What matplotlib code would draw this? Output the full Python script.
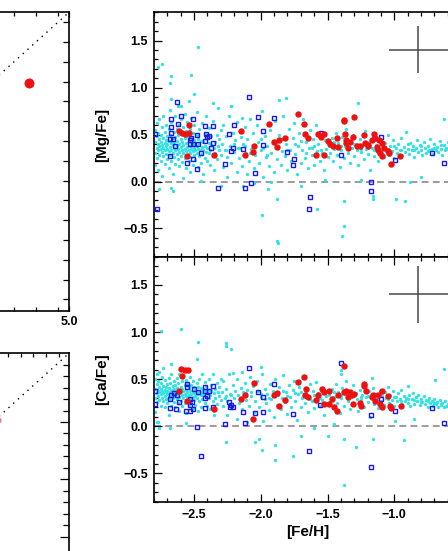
import numpy as np
import matplotlib
matplotlib.use("Agg")
import matplotlib.pyplot as plt
from matplotlib.ticker import MultipleLocator, FixedLocator

plt.rcParams['font.family'] = ['Liberation Sans', 'DejaVu Sans']
plt.rcParams['font.weight'] = 'bold'

# ---------------- data ----------------
# field stars (cyan), [Mg/Fe]
mg_field = [
    (-2.79,0.42),(-2.79,0.30),(-2.79,0.55),(-2.79,0.18),(-2.78,0.36),(-2.78,0.48),(-2.78,0.25),(-2.78,0.62),
    (-2.77,0.40),(-2.77,0.33),(-2.77,0.12),(-2.77,0.52),(-2.76,0.45),(-2.76,0.28),(-2.76,0.38),(-2.76,0.66),
    (-2.75,0.35),(-2.75,0.22),(-2.75,0.50),(-2.75,0.42),(-2.74,0.31),(-2.74,0.58),(-2.74,0.39),(-2.74,0.06),
    (-2.73,0.46),(-2.73,0.27),(-2.73,0.36),(-2.73,0.70),(-2.72,0.41),(-2.72,0.33),(-2.72,0.53),(-2.72,0.19),
    (-2.71,0.38),(-2.71,0.44),(-2.71,0.29),(-2.71,0.60),(-2.70,0.35),(-2.70,0.48),(-2.70,0.24),(-2.70,0.40),
    (-2.69,0.32),(-2.69,0.56),(-2.69,0.43),(-2.69,0.14),(-2.68,0.37),(-2.68,0.28),(-2.68,0.50),(-2.68,0.76),
    (-2.67,0.41),(-2.67,0.34),(-2.67,0.22),(-2.67,0.63),(-2.66,0.39),(-2.66,0.46),(-2.66,0.30),(-2.66,0.08),
    (-2.65,0.36),(-2.65,0.53),(-2.65,0.26),(-2.65,0.42),(-2.64,0.33),(-2.64,0.47),(-2.64,0.19),(-2.64,0.70),
    (-2.63,0.38),(-2.63,0.29),(-2.63,0.56),(-2.63,0.43),(-2.62,0.35),(-2.62,0.24),(-2.62,0.49),(-2.62,0.80),
    (-2.61,0.40),(-2.61,0.31),(-2.61,0.60),(-2.61,0.16),(-2.60,0.37),(-2.60,0.45),(-2.60,0.27),(-2.60,0.66),
    (-2.59,0.33),(-2.59,0.42),(-2.59,0.21),(-2.59,0.52),(-2.58,0.39),(-2.58,0.30),(-2.58,0.58),(-2.58,0.04),
    (-2.57,0.35),(-2.57,0.46),(-2.57,0.25),(-2.57,0.72),(-2.56,0.41),(-2.56,0.32),(-2.56,0.14),(-2.56,0.54),
    (-2.55,0.37),(-2.55,0.28),(-2.55,0.48),(-2.55,0.63),(-2.54,0.34),(-2.54,0.43),(-2.54,0.22),(-2.54,0.86),
    (-2.53,0.38),(-2.53,0.30),(-2.53,0.56),(-2.53,0.10),(-2.52,0.35),(-2.52,0.47),(-2.52,0.26),(-2.52,0.68),
    (-2.51,0.40),(-2.51,0.32),(-2.51,0.18),(-2.51,0.52),(-2.50,0.36),(-2.50,0.44),(-2.50,0.28),(-2.50,0.60),
    (-2.49,0.33),(-2.49,0.41),(-2.49,0.23),(-2.48,0.38),(-2.48,0.30),(-2.48,0.50),(-2.48,0.74),(-2.47,0.35),
    (-2.47,0.45),(-2.47,0.15),(-2.46,0.40),(-2.46,0.27),(-2.46,0.56),(-2.45,0.33),(-2.45,0.43),(-2.45,0.20),
    (-2.44,0.37),(-2.44,0.62),(-2.44,0.29),(-2.43,0.42),(-2.43,0.34),(-2.43,0.08),(-2.42,0.38),(-2.42,0.25),
    (-2.42,0.52),(-2.41,0.31),(-2.41,0.46),(-2.41,0.70),(-2.40,0.36),(-2.40,0.22),(-2.39,0.41),(-2.39,0.30),
    (-2.39,0.57),(-2.38,0.34),(-2.38,0.18),(-2.37,0.39),(-2.37,0.48),(-2.36,0.27),(-2.36,0.64),(-2.35,0.36),
    (-2.35,0.12),(-2.34,0.42),(-2.34,0.30),(-2.33,0.50),(-2.33,0.24),(-2.32,0.38),(-2.32,0.78),(-2.31,0.33),
    (-2.31,0.45),(-2.30,0.28),(-2.30,0.55),
    (-2.29,0.40),(-2.28,0.15),(-2.28,0.60),(-2.27,0.33),(-2.26,0.48),(-2.25,0.05),(-2.25,0.26),(-2.24,0.70),
    (-2.23,0.38),(-2.22,0.80),(-2.22,0.20),(-2.21,0.52),(-2.20,0.31),(-2.19,0.44),(-2.18,0.10),(-2.18,0.63),
    (-2.17,0.36),(-2.16,0.25),(-2.15,0.47),(-2.14,0.68),(-2.14,0.17),(-2.13,0.40),(-2.12,0.58),(-2.11,0.30),
    (-2.10,0.08),(-2.10,0.45),(-2.09,0.22),(-2.08,0.66),(-2.07,0.35),(-2.06,0.52),(-2.05,0.14),(-2.04,0.28),
    (-2.03,0.60),(-2.02,0.42),(-2.01,0.20),(-2.00,0.33),(-1.99,0.75),(-1.98,0.05),(-1.97,0.48),(-1.96,0.26),
    (-1.95,0.38),(-1.94,0.16),(-1.93,0.55),(-1.92,0.30),(-1.91,0.43),(-1.90,0.10),(-1.89,0.64),(-1.88,0.24),
    (-1.87,0.36),(-1.86,0.50),(-1.85,0.18),(-1.84,0.32),(-1.83,0.70),(-1.82,0.27),(-1.81,0.40),(-1.80,0.12),
    (-1.79,0.56),(-1.78,0.34),(-1.77,0.22),(-1.76,0.46),(-1.75,0.62),(-1.74,0.29),(-1.73,0.08),(-1.72,0.38),
    (-1.71,0.52),(-1.70,0.20),(-1.69,0.33),(-1.68,0.66),(-1.67,0.25),(-1.66,0.42),(-1.65,0.14),(-1.64,0.36),
    (-1.63,0.55),(-1.62,0.28),(-1.61,0.45),(-1.60,0.18),(-1.59,0.60),(-1.58,0.32),(-1.57,0.40),(-1.56,0.22),
    (-1.55,0.50),(-1.54,0.30),(-1.53,0.12),(-1.52,0.44),(-1.51,0.35),(-1.50,0.26),
    (-2.20,0.40),(-2.16,0.36),(-2.08,0.30),(-2.00,0.45),(-1.95,0.28),(-1.88,0.42),(-1.80,0.34),(-1.74,0.40),
    (-1.66,0.30),(-1.60,0.38),(-1.55,0.34),(-2.26,0.34),(-2.12,0.38),(-1.98,0.36),(-1.84,0.45),(-1.70,0.43),
    (-1.62,0.36),
    (-1.49,0.38),(-1.48,0.30),(-1.47,0.46),(-1.46,0.22),(-1.45,0.35),(-1.44,0.52),(-1.43,0.28),(-1.42,0.41),
    (-1.41,0.15),(-1.40,0.34),(-1.39,0.47),(-1.38,0.25),(-1.37,0.38),(-1.36,0.56),(-1.35,0.30),(-1.34,0.43),
    (-1.33,0.20),(-1.32,0.36),(-1.31,0.50),(-1.30,0.27),(-1.29,0.40),(-1.28,0.33),(-1.27,0.18),(-1.26,0.45),
    (-1.25,0.31),(-1.24,0.38),(-1.23,0.24),(-1.22,0.54),(-1.21,0.35),(-1.20,0.29),(-1.19,0.42),(-1.18,0.12),
    (-1.17,0.36),(-1.16,0.48),(-1.15,0.27),(-1.14,0.39),(-1.13,0.33),(-1.12,0.22),(-1.11,0.45),(-1.10,0.30),
    (-1.09,0.37),(-1.08,0.26),(-1.07,0.41),(-1.06,0.34),(-1.05,0.50),(-1.04,0.28),(-1.03,0.38),(-1.02,0.32),
    (-1.01,0.44),(-1.00,0.25),(-0.99,0.36),(-0.98,0.30),(-0.97,0.40),(-0.96,0.34),(-0.95,0.46),(-0.94,0.28),
    (-0.93,0.37),(-0.92,0.31),(-0.91,0.53),(-0.90,0.35),(-0.89,0.29),(-0.88,0.41),(-0.87,0.33),(-0.86,0.38),
    (-0.85,0.26),(-0.84,0.36),(-0.83,0.44),(-0.82,0.31),(-0.81,0.39),(-0.80,0.34),(-0.79,0.28),(-0.78,0.42),
    (-0.77,0.36),(-0.76,0.30),(-0.75,0.38),(-0.74,0.33),(-0.73,0.45),(-0.72,0.35),(-0.71,0.29),(-0.70,0.40),
    (-0.69,0.34),(-0.68,0.37),(-0.67,0.31),(-0.66,0.43),(-0.65,0.35),(-0.64,0.28),(-0.63,0.39),(-0.62,0.33),
    (-0.61,0.36),(-0.60,0.42),(-0.59,0.30),(-0.58,0.38),
    (-1.45,0.42),(-1.40,0.38),(-1.35,0.36),(-1.30,0.40),(-1.25,0.35),(-1.20,0.36),(-1.15,0.34),(-1.10,0.40),
    (-1.05,0.35),(-1.00,0.38),(-0.95,0.33),(-0.90,0.40),(-0.85,0.34),(-0.80,0.38),(-0.75,0.32),(-0.70,0.36),
    (-0.65,0.39),(-0.60,0.35),
    (-2.77,1.22),(-2.74,1.25),(-2.67,1.12),(-2.68,1.05),(-2.47,1.43),(-2.52,1.13),(-2.50,0.93),(-1.86,0.87),
    (-1.81,0.89),(-1.99,-0.36),(-1.88,-0.63),(-1.87,-0.65),(-1.38,-0.47),(-1.39,-0.58),(-1.27,0.83),(-0.63,0.67),
    (-0.99,-0.19),(-0.92,-0.21),(-1.375,-0.21),(-1.58,-0.29),(-1.945,-0.08),(-1.88,-0.19),(-1.16,-0.19),
    (-1.16,-0.15),(-2.45,0.01),(-2.76,-0.08),(-2.67,-0.07),(-2.66,-0.10),(-0.88,0.00),(-1.92,0.00),(-2.36,0.83),
    (-2.22,0.80),(-2.67,0.88),(-2.60,0.80),(-2.13,-0.05),(-2.05,-0.02),(-1.70,-0.05),(-1.52,0.02),(-1.25,0.02),
    (-0.80,0.05),(-2.30,-0.05),
]

# field stars (cyan), [Ca/Fe]
ca_field = [
    (-2.79,0.40),(-2.79,0.30),(-2.79,0.50),(-2.79,0.15),(-2.78,0.35),(-2.78,0.45),(-2.78,0.26),(-2.78,0.55),
    (-2.77,0.38),(-2.77,0.32),(-2.77,0.05),(-2.77,0.48),(-2.76,0.42),(-2.76,0.28),(-2.76,0.36),(-2.76,0.58),
    (-2.75,0.34),(-2.75,0.22),(-2.75,0.46),(-2.75,0.40),(-2.74,0.30),(-2.74,0.52),(-2.74,0.37),(-2.73,0.43),
    (-2.73,0.27),(-2.73,0.35),(-2.73,0.62),(-2.72,0.39),(-2.72,0.32),(-2.72,0.49),(-2.72,0.20),(-2.71,0.36),
    (-2.71,0.42),(-2.71,0.29),(-2.70,0.34),(-2.70,0.45),(-2.70,0.25),(-2.70,0.38),(-2.69,0.31),(-2.69,0.51),
    (-2.69,0.41),(-2.69,0.12),(-2.68,0.36),(-2.68,0.28),(-2.68,0.46),(-2.67,0.39),(-2.67,0.33),(-2.67,0.22),
    (-2.67,0.56),(-2.66,0.37),(-2.66,0.43),(-2.66,0.30),(-2.65,0.35),(-2.65,0.48),(-2.65,0.26),(-2.65,0.40),
    (-2.64,0.32),(-2.64,0.44),(-2.64,0.20),(-2.63,0.37),(-2.63,0.29),(-2.63,0.51),(-2.63,0.41),(-2.62,0.34),
    (-2.62,0.25),(-2.62,0.46),(-2.61,0.38),(-2.61,0.31),(-2.61,0.55),(-2.61,0.16),(-2.60,0.36),(-2.60,0.42),
    (-2.60,0.27),(-2.59,0.33),(-2.59,0.40),(-2.59,0.22),(-2.59,0.48),(-2.58,0.37),(-2.58,0.30),(-2.58,0.52),
    (-2.57,0.34),(-2.57,0.44),(-2.57,0.25),(-2.56,0.39),(-2.56,0.32),(-2.56,0.14),(-2.56,0.49),(-2.55,0.36),
    (-2.55,0.28),(-2.55,0.45),(-2.54,0.33),(-2.54,0.41),(-2.54,0.23),(-2.53,0.37),(-2.53,0.30),(-2.53,0.52),
    (-2.52,0.34),(-2.52,0.44),(-2.52,0.26),(-2.51,0.38),(-2.51,0.31),(-2.51,0.19),(-2.51,0.48),(-2.50,0.35),
    (-2.50,0.42),(-2.50,0.28),(-2.49,0.32),(-2.49,0.39),(-2.49,0.23),(-2.48,0.36),(-2.48,0.30),(-2.48,0.46),
    (-2.47,0.34),(-2.47,0.42),(-2.47,0.16),(-2.46,0.38),(-2.46,0.27),(-2.46,0.50),(-2.45,0.33),(-2.45,0.41),
    (-2.45,0.21),(-2.44,0.36),(-2.44,0.55),(-2.44,0.29),(-2.43,0.40),(-2.43,0.33),(-2.42,0.37),(-2.42,0.25),
    (-2.42,0.47),(-2.41,0.31),(-2.41,0.43),(-2.40,0.35),(-2.40,0.22),(-2.39,0.39),(-2.39,0.30),(-2.39,0.50),
    (-2.38,0.33),(-2.38,0.18),(-2.37,0.37),(-2.37,0.44),(-2.36,0.27),(-2.36,0.55),(-2.35,0.35),(-2.35,0.12),
    (-2.34,0.40),(-2.34,0.30),(-2.33,0.46),(-2.33,0.24),(-2.32,0.36),(-2.31,0.32),(-2.31,0.42),(-2.30,0.28),
    (-2.30,0.50),
    (-2.29,0.36),(-2.28,0.22),(-2.28,0.48),(-2.27,0.30),(-2.26,0.40),(-2.25,0.12),(-2.25,0.27),(-2.24,0.55),
    (-2.23,0.34),(-2.22,0.20),(-2.21,0.44),(-2.20,0.30),(-2.19,0.38),(-2.18,0.08),(-2.18,0.50),(-2.17,0.33),
    (-2.16,0.25),(-2.15,0.41),(-2.14,0.58),(-2.14,0.18),(-2.13,0.36),(-2.12,0.46),(-2.11,0.28),(-2.10,0.05),
    (-2.10,0.39),(-2.09,0.22),(-2.08,0.52),(-2.07,0.32),(-2.06,0.43),(-2.05,0.15),(-2.04,0.27),(-2.03,0.48),
    (-2.02,0.37),(-2.01,0.20),(-2.00,0.31),(-1.99,0.56),(-1.98,0.06),(-1.97,0.40),(-1.96,0.25),(-1.95,0.34),
    (-1.94,0.17),(-1.93,0.45),(-1.92,0.29),(-1.91,0.37),(-1.90,0.10),(-1.89,0.50),(-1.88,0.23),(-1.87,0.33),
    (-1.86,0.42),(-1.85,0.18),(-1.84,0.30),(-1.83,0.54),(-1.82,0.26),(-1.81,0.36),(-1.80,0.13),(-1.79,0.44),
    (-1.78,0.31),(-1.77,0.21),(-1.76,0.39),(-1.75,0.48),(-1.74,0.27),(-1.73,0.07),(-1.72,0.34),(-1.71,0.42),
    (-1.70,0.20),(-1.69,0.30),(-1.68,0.52),(-1.67,0.25),(-1.66,0.37),(-1.65,0.15),(-1.64,0.32),(-1.63,0.45),
    (-1.62,0.27),(-1.61,0.38),(-1.60,0.19),(-1.59,0.47),(-1.58,0.30),(-1.57,0.35),(-1.56,0.22),(-1.55,0.41),
    (-1.54,0.28),(-1.53,0.12),(-1.52,0.37),(-1.51,0.32),(-1.50,0.25),
    (-2.22,0.33),(-2.15,0.30),(-2.07,0.36),(-2.00,0.34),(-1.94,0.30),(-1.87,0.36),(-1.80,0.32),(-1.74,0.35),
    (-1.67,0.31),(-1.60,0.33),(-1.56,0.30),(-2.26,0.32),(-2.11,0.35),(-1.97,0.29),(-1.83,0.38),(-1.70,0.36),
    (-1.63,0.29),
    (-1.49,0.33),(-1.48,0.26),(-1.47,0.40),(-1.46,0.20),(-1.45,0.31),(-1.44,0.45),(-1.43,0.25),(-1.42,0.36),
    (-1.41,0.14),(-1.40,0.30),(-1.39,0.41),(-1.38,0.22),(-1.37,0.34),(-1.36,0.48),(-1.35,0.27),(-1.34,0.38),
    (-1.33,0.18),(-1.32,0.32),(-1.31,0.44),(-1.30,0.24),(-1.29,0.35),(-1.28,0.29),(-1.27,0.16),(-1.26,0.39),
    (-1.25,0.28),(-1.24,0.33),(-1.23,0.21),(-1.22,0.45),(-1.21,0.31),(-1.20,0.26),(-1.19,0.37),(-1.18,0.10),
    (-1.17,0.32),(-1.16,0.41),(-1.15,0.24),(-1.14,0.34),(-1.13,0.29),(-1.12,0.19),(-1.11,0.38),(-1.10,0.27),
    (-1.09,0.32),(-1.08,0.23),(-1.07,0.36),(-1.06,0.30),(-1.05,0.42),(-1.04,0.25),(-1.03,0.33),(-1.02,0.28),
    (-1.01,0.37),(-1.00,0.22),(-0.99,0.31),(-0.98,0.27),(-0.97,0.35),(-0.96,0.29),(-0.95,0.39),(-0.94,0.24),
    (-0.93,0.32),(-0.92,0.27),(-0.91,0.30),(-0.90,0.25),(-0.89,0.33),(-0.88,0.22),(-0.87,0.29),(-0.86,0.35),
    (-0.85,0.24),(-0.84,0.31),(-0.83,0.27),(-0.82,0.33),(-0.81,0.23),(-0.80,0.29),(-0.79,0.26),(-0.78,0.32),
    (-0.77,0.24),(-0.76,0.28),(-0.75,0.21),(-0.74,0.30),(-0.73,0.25),(-0.72,0.27),(-0.71,0.22),(-0.70,0.29),
    (-0.69,0.24),(-0.68,0.26),(-0.67,0.21),(-0.66,0.28),(-0.65,0.23),(-0.64,0.25),(-0.63,0.20),(-0.62,0.27),
    (-0.61,0.22),(-0.60,0.24),(-0.59,0.19),(-0.58,0.23),
    (-1.45,0.36),(-1.40,0.33),(-1.35,0.32),(-1.30,0.34),(-1.25,0.31),(-1.20,0.32),(-1.15,0.30),(-1.10,0.33),
    (-1.05,0.29),(-1.00,0.31),(-0.95,0.27),(-0.90,0.29),(-0.85,0.28),(-0.80,0.26),(-0.75,0.27),(-0.70,0.25),
    (-0.65,0.24),(-0.60,0.22),
    (-2.745,1.01),(-2.60,1.03),(-2.47,0.89),(-2.26,0.88),(-2.26,0.85),(-2.22,0.82),(-2.48,0.71),(-2.67,0.66),
    (-2.00,0.63),(-2.21,0.57),(-0.63,0.61),(-0.695,0.49),(-0.895,0.43),(-1.17,0.51),(-1.38,-0.62),(-2.26,-0.17),
    (-2.01,-0.13),(-2.045,-0.17),(-1.99,-0.25),(-1.89,-0.36),(-1.89,-0.20),(-1.76,-0.32),(-1.695,-0.10),
    (-1.495,-0.10),(-1.38,-0.13),(-1.29,-0.22),(-1.16,-0.13),(-0.93,-0.15),(-0.995,0.06),(-2.78,0.05),
    (-2.76,-0.02),(-2.68,-0.02),(-2.56,0.03),(-1.40,0.60),(-1.40,0.55),(-1.60,-0.02),(-1.45,0.02),(-0.85,0.08),
]

# comparison sample (blue open squares)
mg_sq = [
    (-2.79,0.51),(-2.78,-0.29),(-2.63,0.85),(-2.67,0.67),(-2.60,0.70),(-2.62,0.61),(-2.67,0.58),(-2.67,0.52),
    (-2.68,0.45),(-2.655,0.45),(-2.64,0.38),(-2.68,0.27),(-2.51,0.66),(-2.53,0.44),(-2.52,0.46),(-2.53,0.40),
    (-2.51,0.40),(-2.48,0.49),(-2.47,0.40),(-2.55,0.20),(-2.51,0.24),(-2.475,0.13),(-2.45,0.30),(-2.42,0.59),
    (-2.41,0.51),(-2.405,0.47),(-2.42,0.43),(-2.36,0.59),(-2.39,0.48),(-2.36,0.41),(-2.37,0.36),(-2.32,-0.07),
    (-2.27,0.19),(-2.24,0.51),(-2.20,0.60),(-2.225,0.32),(-2.21,0.36),(-2.13,0.35),(-2.09,0.90),(-2.12,-0.07),
    (-2.07,-0.02),(-2.04,0.09),(-2.02,0.69),(-1.98,0.54),(-1.98,0.39),(-1.90,0.68),(-1.80,0.31),(-1.75,0.24),
    (-1.76,0.18),(-1.63,-0.17),(-1.64,-0.29),(-1.55,0.52),(-1.40,0.28),(-1.175,0.00),(-1.175,-0.10),
    (-1.10,0.47),(-0.995,0.23),(-0.715,0.30),(-0.625,0.20),
]
ca_sq = [
    (-2.79,0.38),(-2.79,0.24),(-2.68,0.29),(-2.67,0.33),(-2.65,0.35),(-2.63,0.33),(-2.68,0.19),(-2.635,0.18),
    (-2.61,0.26),(-2.55,0.45),(-2.555,0.42),(-2.50,0.40),(-2.47,0.36),(-2.53,0.29),(-2.515,0.26),(-2.53,0.23),
    (-2.51,0.18),(-2.56,0.16),(-2.53,0.16),(-2.42,0.42),(-2.42,0.38),(-2.39,0.37),(-2.42,0.30),(-2.40,0.32),
    (-2.36,0.43),(-2.36,0.21),(-2.42,0.19),(-2.48,-0.01),(-2.45,-0.32),(-2.27,0.02),(-2.24,0.26),(-2.22,0.23),
    (-2.23,0.21),(-2.21,0.21),(-2.13,0.15),(-2.12,0.03),(-2.09,0.62),(-2.045,0.14),(-2.02,0.36),(-1.98,0.31),
    (-1.98,0.15),(-1.90,0.45),(-1.76,0.13),(-1.64,-0.26),(-1.56,0.23),(-1.40,0.67),(-1.175,0.12),
    (-1.175,-0.43),(-1.10,0.29),(-0.995,0.16),(-0.715,0.19),(-0.625,0.04),
]

# this work (red filled circles)
mg_red = [
    (-2.61,0.54),(-2.59,0.52),(-2.57,0.51),(-2.54,0.60),(-2.54,0.52),(-2.55,0.27),(-2.35,0.28),(-2.15,0.54),
    (-2.12,0.28),(-2.06,0.31),(-2.05,0.38),(-1.94,0.61),(-1.90,0.42),(-1.88,0.37),(-1.86,0.44),(-1.82,0.46),
    (-1.72,0.72),(-1.675,0.61),(-1.67,0.51),(-1.65,0.46),(-1.59,0.28),(-1.57,0.51),(-1.55,0.47),(-1.53,0.51),
    (-1.53,0.28),(-1.50,0.43),(-1.48,0.40),(-1.46,0.38),(-1.43,0.46),(-1.42,0.37),(-1.38,0.65),(-1.38,0.64),
    (-1.37,0.51),(-1.365,0.44),(-1.36,0.41),(-1.345,0.36),(-1.33,0.42),(-1.31,0.47),(-1.30,0.69),(-1.28,0.38),
    (-1.26,0.38),(-1.23,0.49),(-1.22,0.41),(-1.20,0.38),(-1.195,0.39),(-1.17,0.44),(-1.15,0.51),(-1.145,0.46),
    (-1.13,0.37),(-1.12,0.34),(-1.11,0.30),(-1.095,0.27),(-1.08,0.36),(-1.115,0.44),(-1.095,0.41),
    (-1.045,0.32),(-1.04,0.30),(-1.025,0.19),(-0.955,0.27),
]
ca_red = [
    (-2.595,0.61),(-2.57,0.60),(-2.545,0.60),(-2.59,0.53),(-2.61,0.38),(-2.55,0.27),(-2.35,0.18),(-2.15,0.29),
    (-2.12,0.33),(-2.05,0.46),(-2.06,0.08),(-1.90,0.33),(-1.88,0.35),(-1.86,0.22),(-1.82,0.28),(-1.72,0.47),
    (-1.675,0.52),(-1.66,0.40),(-1.67,0.33),(-1.65,0.31),(-1.59,0.28),(-1.57,0.33),(-1.54,0.40),(-1.53,0.36),
    (-1.53,0.24),(-1.49,0.37),(-1.49,0.24),(-1.465,0.29),(-1.45,0.21),(-1.43,0.16),(-1.42,0.33),(-1.38,0.64),
    (-1.375,0.36),(-1.36,0.38),(-1.35,0.31),(-1.33,0.36),(-1.32,0.33),(-1.30,0.34),(-1.31,0.24),(-1.26,0.25),
    (-1.25,0.22),(-1.23,0.45),(-1.23,0.43),(-1.21,0.38),(-1.17,0.31),(-1.16,0.33),(-1.145,0.27),(-1.125,0.33),
    (-1.11,0.24),(-1.095,0.21),(-1.09,0.37),(-1.045,0.32),(-1.03,0.22),(-1.025,0.19),(-0.95,0.22),
]

# typical error bars (x, y, xerr, yerr)
mg_err = (-0.82, 1.40, 0.22, 0.25)
ca_err = (-0.82, 1.40, 0.22, 0.30)

# left-hand comparison panels (only their right edge is in the picture)
left_top_pt = (4.10, 3.22)
left_bot_pt = (2.22, 2.10)

feh_ticks = [-2.5, -2.0, -1.5, -1.0]

# ---------------- figure ----------------
W, H = 448, 551
fig = plt.figure(figsize=(W / 100, H / 100), dpi=100)
fig.patch.set_facecolor('white')


def px_axes(left, top, right, bottom):
    # axes placed by pixel edges (may run off the canvas)
    return fig.add_axes([left / W, 1 - bottom / H, (right - left) / W, (bottom - top) / H])


cyan = '#2fe3e3'
blue = '#1a1ae6'
red = '#ee1111'

ax1 = px_axes(154, 12.3, 461, 256.7)
ax2 = px_axes(154, 256.7, 461, 501.7)

for ax, field, sq, rd, err, lab in [
        (ax1, mg_field, mg_sq, mg_red, mg_err, '[Mg/Fe]'),
        (ax2, ca_field, ca_sq, ca_red, ca_err, '[Ca/Fe]')]:
    fx, fy = np.array(field).T
    sx, sy = np.array(sq).T
    rx, ry = np.array(rd).T
    ax.plot(fx, fy, 'o', ms=2.4, mew=0, color=cyan, zorder=2)
    ax.axhline(0.0, color='#808080', lw=1.1, dashes=(4.5, 2.8), zorder=1)
    ax.plot(sx, sy, 's', ms=3.3, mfc='none', mec=blue, mew=1.0, zorder=3)
    ax.plot(rx, ry, 'o', ms=4.6, mew=0, color=red, zorder=4)
    ax.errorbar(err[0], err[1], xerr=err[2], yerr=err[3], fmt='none',
                ecolor='#484848', elinewidth=1.1, capsize=0, zorder=5)
    ax.set_xlim(-2.8, -0.5)
    ax.set_ylim(-0.8, 1.8)
    ax.xaxis.set_major_locator(FixedLocator(feh_ticks))
    ax.xaxis.set_minor_locator(MultipleLocator(0.1))
    ax.yaxis.set_major_locator(MultipleLocator(0.5))
    ax.yaxis.set_minor_locator(MultipleLocator(0.1))
    ax.tick_params(which='both', direction='in', top=True, right=True, width=0.9,
                   labelsize=9, colors='black')
    ax.tick_params(which='major', length=5.5)
    ax.tick_params(which='minor', length=3.0)
    ax.tick_params(axis='y', pad=4.3)
    ax.tick_params(axis='x', pad=5.5)
    for s in ax.spines.values():
        s.set_linewidth(1.2)
    ax.set_ylabel(lab, fontsize=11, fontweight='bold', va='center')
    ax.yaxis.set_label_coords(-0.168, 0.5)

ax1.tick_params(labelbottom=False)
ax2.set_xlabel('[Fe/H]', fontsize=11, fontweight='bold', va='center')
ax2.xaxis.set_label_coords(0.5, -0.1224)

# left-top panel
axl1 = px_axes(69 - 298, 12.3, 69, 310.7)
axl1.set_xlim(5.0 - 298 / 44.0, 5.0)
axl1.set_ylim(5.0 - 298.4 / 39.6, 5.0)
axl1.plot([-3, 5], [-3, 5], color='black', lw=1.0, dashes=(1, 3.6))
axl1.plot(left_top_pt[0], left_top_pt[1], 'o', ms=7.2, mew=0, color=red)
axl1.set_xticks([5.0])
axl1.set_xticklabels(['5.0'])
axl1.set_xticks([4.75, 4.25, 3.75, 3.25, 2.75, 2.25], minor=True)
axl1.set_yticks([4.75 - 0.5 * k for k in range(15)], minor=True)
axl1.set_yticks([])
axl1.tick_params(which='both', direction='in', top=True, right=True, width=0.9,
                 labelsize=9, pad=3.8)
axl1.tick_params(axis='x', which='minor', length=3.0)
axl1.tick_params(axis='y', which='minor', length=4.0)

# left-bottom panel
axl2 = px_axes(69 - 298, 353.3, 69, 651.7)
axl2.set_xlim(5.0 - 298 / 25.4, 5.0)
axl2.set_ylim(5.0 - 298.4 / 22.9, 5.0)
axl2.plot([-9, 5], [-9, 5], color='black', lw=1.0, dashes=(1, 3.6))
axl2.plot(left_bot_pt[0], left_bot_pt[1], 'o', ms=4.5, mew=0, color='#f07a96')
axl2.set_xticks([])
axl2.set_xticks([4.6 - 0.5 * k for k in range(8)], minor=True)
axl2.set_yticks([2.0, -0.5, -3.0])
axl2.set_yticks([4.5 - 0.5 * k for k in range(16)], minor=True)
axl2.tick_params(which='both', direction='in', top=True, right=True, width=0.9,
                 labelleft=False)
axl2.tick_params(axis='x', which='minor', length=3.0)
axl2.tick_params(axis='y', which='minor', length=4.0)
axl2.tick_params(axis='y', which='major', length=6.5)

for a in (axl1, axl2):
    for s in a.spines.values():
        s.set_linewidth(1.2)

fig.savefig('out.png', dpi=100, facecolor='white')
